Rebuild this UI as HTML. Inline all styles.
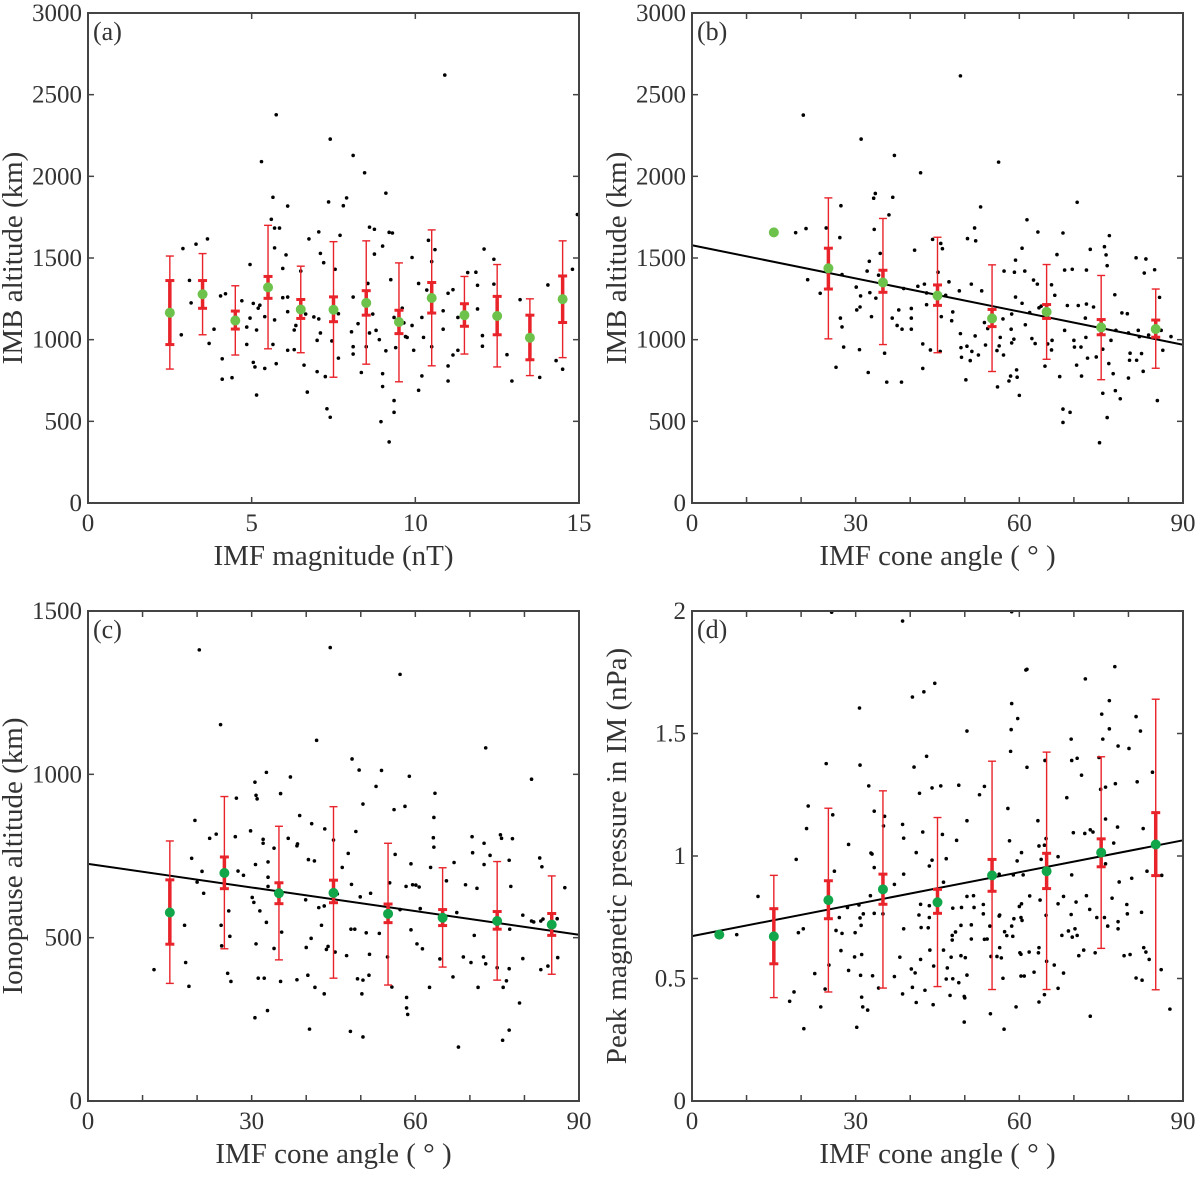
<!DOCTYPE html>
<html><head><meta charset="utf-8"><style>
body{margin:0;background:#fff;}
svg text{font-family:"Liberation Serif","Times New Roman","DejaVu Serif",serif;fill:#333;}
</style></head><body>
<svg id="fig" width="1200" height="1172" viewBox="0 0 1200 1172" xmlns="http://www.w3.org/2000/svg" font-family="Liberation Serif, Times New Roman, DejaVu Serif, serif"></svg>
<script>
// ---------- Panel (a) data ----------
const aDots=[[10.9,2620],[5.75,2377],[7.4,2228],[5.3,2090],[8.1,2128],[8.45,2022],[5.65,1872],[7.9,1868],[7.35,1843],[7.8,1820],[6.1,1818],[9.1,1897],[5.6,1737],[14.95,1766],[5.7,1683],[5.85,1683],[8.6,1689],[8.75,1676],[9.2,1657],[9.3,1653],[7.05,1660],[7.7,1639],[6.75,1617],[3.65,1617],[10.4,1608],[10.6,1551],[12.1,1555],[2.9,1558],[3.3,1585],[9.0,1573],[5.7,1562],[6.05,1519],[8.75,1524],[7.1,1528],[9.9,1503],[4.95,1460],[7.2,1471],[12.4,1492],[14.8,1431],[10.5,1478],[5.95,1436],[7.55,1431],[11.85,1413],[11.6,1411],[6.5,1420],[3.1,1363],[9.25,1367],[8.55,1344],[10.1,1344],[14.05,1335],[11.9,1333],[11.15,1306],[11.0,1284],[10.35,1304],[12.4,1340],[3.15,1225],[4.05,1268],[4.2,1281],[4.7,1238],[5.95,1257],[6.1,1261],[8.1,1261],[11.3,1136],[11.9,1188],[13.2,1245],[5.05,1222],[5.25,1211],[5.2,1193],[5.4,1141],[5.7,1121],[6.1,1171],[6.65,1157],[7.05,1127],[7.65,1159],[8.7,1157],[9.35,1136],[9.6,1193],[10.85,1177],[10.2,1136],[4.95,1132],[6.9,1139],[8.25,1098],[8.8,1057],[9.65,1103],[9.9,1087],[10.85,1064],[6.35,1087],[8.05,1048],[7.1,1041],[3.85,1064],[4.85,1077],[5.15,1059],[6.3,1059],[12.05,1025],[9.75,1014],[10.25,1014],[9.7,1019],[8.6,1041],[8.9,1000],[7.0,996],[7.45,992],[2.85,1030],[3.7,977],[4.85,971],[5.65,971],[8.1,957],[8.5,957],[9.95,935],[10.5,957],[11.3,935],[12.05,960],[12.8,908],[9.1,932],[9.4,951],[6.1,935],[6.3,939],[7.65,887],[8.1,912],[11.15,906],[14.3,872],[4.1,883],[5.05,861],[5.1,833],[5.4,824],[5.75,853],[6.6,844],[7.0,804],[8.35,799],[9.0,792],[11.0,839],[14.5,819],[4.1,758],[4.4,767],[7.25,774],[10.2,778],[13.8,769],[12.95,747],[11.0,747],[10.1,690],[6.7,679],[9.0,713],[5.15,661],[7.3,577],[7.4,525],[9.35,627],[9.35,555],[8.95,498],[9.2,374]];
const aBinX=[2.5,3.5,4.5,5.5,6.5,7.5,8.5,9.5,10.5,11.5,12.5,13.5,14.5];
const aMean=[1165,1278,1117,1320,1185,1183,1225,1108,1255,1150,1145,1012,1248];
const aInLo=[970,1192,1065,1253,1130,1110,1150,1037,1163,1082,1030,877,1105];
const aInHi=[1362,1362,1175,1387,1246,1262,1300,1180,1350,1220,1265,1150,1390];
const aOutLo=[820,1030,906,944,920,770,850,742,840,912,833,780,890];
const aOutHi=[1512,1527,1330,1700,1450,1600,1605,1470,1672,1387,1460,1250,1605];
const aXTicks=[0,5,10,15];
const aYTicks=[0,500,1000,1500,2000,2500,3000];

// ---------- Panel (b) data ----------
const bDots=[[49.2,2615],[20.4,2375],[31.0,2228],[37.1,2128],[41.9,2022],[56.2,2087],[70.6,1841],[52.9,1813],[36.8,1872],[33.6,1895],[33.3,1866],[27.3,1820],[36.1,1764],[61.4,1734],[51.8,1684],[19.0,1655],[20.9,1680],[24.6,1684],[33.4,1675],[52.0,1605],[50.5,1619],[44.1,1614],[63.4,1659],[68.0,1653],[27.1,1625],[76.5,1637],[75.6,1569],[45.6,1589],[45.9,1557],[40.8,1548],[60.5,1560],[73.0,1553],[66.9,1521],[75.9,1519],[34.5,1528],[81.4,1501],[83.2,1494],[59.3,1487],[76.1,1453],[82.9,1408],[84.8,1428],[69.7,1431],[68.3,1426],[72.3,1426],[57.2,1420],[61.0,1420],[59.1,1413],[45.1,1413],[32.1,1420],[32.5,1480],[34.2,1395],[21.2,1367],[27.5,1399],[47.1,1354],[42.6,1340],[62.6,1365],[63.3,1340],[51.2,1340],[65.9,1336],[63.6,1195],[68.8,1209],[70.8,1209],[72.3,1218],[77.5,1275],[85.7,1259],[23.5,1284],[30.1,1322],[30.9,1268],[32.6,1288],[33.7,1254],[38.8,1313],[41.4,1327],[43.0,1286],[46.5,1272],[49.0,1299],[53.1,1299],[59.3,1261],[60.5,1223],[66.5,1272],[30.2,1182],[30.8,1200],[37.9,1182],[40.2,1191],[43.0,1214],[47.8,1170],[58.6,1157],[61.9,1166],[64.0,1205],[78.8,1164],[79.8,1159],[27.2,1132],[32.9,1141],[36.7,1132],[40.2,1132],[45.7,1141],[47.6,1116],[53.6,1105],[57.0,1127],[61.1,1091],[72.1,1132],[73.6,1200],[27.5,1078],[37.6,1087],[38.5,1064],[40.2,1064],[49.2,1037],[51.9,1023],[54.2,1068],[58.5,1064],[68.3,1057],[77.7,1057],[80.0,1041],[81.8,1057],[83.7,1028],[86.0,1057],[87.8,1019],[56.5,1014],[62.3,1007],[70.0,996],[72.2,1014],[82.0,1019],[66.0,996],[76.8,996],[58.6,980],[59.0,1003],[62.9,976],[65.2,974],[65.9,937],[70.1,955],[71.3,955],[75.3,942],[27.8,955],[30.7,939],[42.3,974],[43.7,937],[45.5,928],[53.8,967],[55.9,933],[56.3,962],[49.3,951],[50.4,960],[51.3,928],[52.5,906],[86.3,935],[82.4,915],[80.3,917],[72.5,887],[74.1,894],[57.1,906],[35.3,917],[49.4,892],[51.0,872],[70.5,844],[64.7,838],[81.5,874],[80.2,874],[82.7,806],[76.4,854],[26.4,831],[42.3,824],[59.5,815],[32.3,799],[58.4,777],[67.4,774],[71.4,777],[59.6,770],[80.0,765],[77.2,792],[50.2,754],[58.1,747],[35.7,740],[38.4,740],[56.0,711],[77.6,688],[60.0,659],[75.3,672],[78.5,638],[85.3,627],[68.0,575],[69.3,555],[68.0,493],[76.1,523],[74.7,369]];
const bBinX=[25,35,45,55,65,75,85];
const bMean=[1437,1350,1270,1130,1170,1075,1065];
const bInLo=[1310,1290,1210,1080,1130,1030,1015];
const bInHi=[1560,1425,1335,1185,1215,1123,1120];
const bOutLo=[1005,970,920,805,880,755,825];
const bOutHi=[1868,1742,1627,1458,1460,1393,1310];
const bExtraX=[15];
const bExtraY=[1657];
const bFitX=[0,90];
const bFitY=[1578,969];
const bXTicks=[0,30,60,90];
const bXMinor=[10,20,40,50,70,80];
const bYTicks=[0,500,1000,1500,2000,2500,3000];

// ---------- Panel (c) data ----------
const cDots=[[20.4,1381],[44.4,1388],[57.2,1306],[24.3,1152],[41.9,1104],[72.9,1081],[48.4,1047],[32.7,1006],[49.7,1013],[53.8,1012],[81.3,985],[37.1,992],[58.9,994],[30.6,976],[52.8,963],[35.3,941],[63.6,942],[30.8,936],[31.0,925],[27.2,927],[50.4,909],[58.1,902],[56.1,892],[38.8,874],[63.4,868],[19.6,859],[41.0,849],[43.4,833],[49.1,825],[29.8,827],[23.5,817],[22.3,804],[27.0,809],[32.1,801],[36.7,804],[45.0,799],[63.3,806],[70.4,809],[75.6,815],[75.8,804],[77.8,803],[72.6,789],[32.1,789],[34.1,774],[63.4,777],[38.3,781],[38.4,787],[47.7,758],[70.5,760],[73.7,752],[56.3,755],[19.0,743],[40.4,739],[41.5,735],[77.2,737],[82.8,744],[67.1,730],[20.9,703],[27.5,704],[28.5,691],[30.7,724],[33.0,732],[33.0,685],[46.6,715],[59.2,726],[62.8,715],[83.2,717],[72.6,724],[65.7,674],[69.2,662],[60.1,661],[60.7,655],[59.5,662],[87.4,653],[77.5,657],[71.3,651],[55.3,668],[48.3,663],[49.9,625],[51.8,636],[33.0,657],[30.1,623],[39.9,616],[42.3,592],[43.3,597],[45.7,634],[20.0,670],[21.2,636],[30.4,608],[31.5,582],[25.8,582],[60.9,589],[57.2,586],[58.3,657],[67.6,577],[79.7,569],[81.3,551],[81.7,548],[83.0,551],[17.7,538],[24.4,538],[32.7,547],[35.5,517],[42.8,538],[48.2,526],[48.9,526],[51.0,515],[53.4,513],[59.2,524],[70.8,507],[77.3,526],[83.4,557],[86.0,558],[24.5,475],[26.0,504],[30.8,481],[34.1,467],[40.9,498],[43.7,464],[44.0,473],[45.3,456],[51.6,449],[40.0,470],[47.4,445],[50.4,370],[54.9,441],[60.3,481],[61.3,466],[64.5,435],[68.8,441],[70.2,424],[72.5,441],[72.9,420],[75.0,408],[79.7,436],[86.1,439],[84.3,413],[83.0,402],[77.2,405],[12.1,402],[17.9,424],[25.6,391],[26.2,366],[31.2,376],[32.3,376],[35.3,366],[38.3,371],[40.3,385],[49.4,374],[51.5,385],[55.7,349],[66.9,380],[62.6,348],[76.1,348],[76.7,368],[71.5,348],[18.5,351],[41.6,348],[43.3,328],[50.2,328],[58.4,317],[58.4,285],[58.6,265],[79.1,300],[30.6,255],[32.9,277],[40.6,220],[48.1,213],[50.4,196],[77.2,217],[76.0,186],[67.9,165]];
const cBinX=[15,25,35,45,55,65,75,85];
const cMean=[577,698,636,637,573,561,551,540];
const cInLo=[480,650,604,607,546,537,526,507];
const cInHi=[677,747,668,676,603,586,580,574];
const cOutLo=[360,466,432,376,355,410,370,388];
const cOutHi=[796,932,841,901,789,714,733,689];
const cFitX=[0,90];
const cFitY=[726,509];
const cXTicks=[0,30,60,90];
const cXMinor=[10,20,40,50,70,80];
const cYTicks=[0,500,1000,1500];

// ---------- Panel (d) data ----------
const dDots=[[25.6,1.995],[58.6,1.997],[38.6,1.959],[61.4,1.762],[61.2,1.759],[77.5,1.773],[72.1,1.723],[44.5,1.705],[42.5,1.670],[40.4,1.649],[76.5,1.634],[58.6,1.622],[30.7,1.604],[75.1,1.579],[59.7,1.561],[81.4,1.569],[50.4,1.510],[58.5,1.516],[82.2,1.510],[76.5,1.519],[75.3,1.477],[69.5,1.477],[78.1,1.449],[80.1,1.439],[58.4,1.427],[43.0,1.407],[70.6,1.399],[69.6,1.390],[64.7,1.390],[74.6,1.402],[24.6,1.377],[30.8,1.371],[40.7,1.363],[61.4,1.362],[84.4,1.342],[71.4,1.330],[81.6,1.303],[75.8,1.281],[77.6,1.295],[32.4,1.286],[48.9,1.289],[44.0,1.278],[45.6,1.286],[53.6,1.284],[52.7,1.250],[74.9,1.272],[41.7,1.256],[68.7,1.238],[57.9,1.194],[33.4,1.183],[25.8,1.168],[21.3,1.204],[35.3,1.162],[35.1,1.123],[63.4,1.144],[50.4,1.144],[75.8,1.151],[21.0,1.112],[82.7,1.112],[78.0,1.118],[38.6,1.129],[42.3,1.098],[45.9,1.088],[69.9,1.095],[72.0,1.092],[73.0,1.107],[73.5,1.098],[38.8,1.073],[48.5,1.064],[58.2,1.062],[64.9,1.071],[77.3,1.053],[28.7,1.047],[64.6,1.044],[41.1,1.014],[32.8,1.012],[33.0,1.008],[60.4,1.014],[67.1,0.997],[19.1,0.986],[46.6,0.989],[44.0,0.983],[59.6,0.980],[64.0,0.986],[33.4,0.953],[43.5,0.959],[63.6,1.041],[75.8,0.968],[38.8,0.926],[58.9,0.923],[60.7,0.923],[80.6,0.909],[86.1,0.921],[83.4,0.938],[26.1,0.938],[56.3,0.926],[69.6,0.923],[37.1,0.884],[46.1,0.893],[78.3,0.894],[50.4,0.835],[51.6,0.838],[53.4,0.802],[51.7,0.790],[49.4,0.790],[43.5,0.797],[41.9,0.803],[32.7,0.838],[30.6,0.800],[28.5,0.790],[60.4,0.805],[68.1,0.835],[70.4,0.812],[72.3,0.838],[72.9,0.782],[67.1,0.805],[63.8,0.820],[77.0,0.828],[79.7,0.802],[61.9,0.837],[60.0,0.794],[79.8,0.764],[82.4,0.770],[69.5,0.761],[64.9,0.758],[56.4,0.759],[56.3,0.755],[53.4,0.764],[51.2,0.719],[49.3,0.717],[47.8,0.787],[41.6,0.759],[33.4,0.766],[31.4,0.764],[27.0,0.749],[35.0,0.764],[75.6,0.749],[78.1,0.732],[76.2,0.714],[78.1,0.703],[74.2,0.749],[70.2,0.703],[69.0,0.694],[67.8,0.676],[60.3,0.749],[60.5,0.737],[58.6,0.714],[57.7,0.675],[58.8,0.672],[59.0,0.744],[57.3,0.691],[54.6,0.714],[42.0,0.708],[43.3,0.707],[43.5,0.749],[38.8,0.703],[31.0,0.717],[30.8,0.747],[27.5,0.684],[29.9,0.687],[26.4,0.696],[19.5,0.687],[20.4,0.703],[12.1,0.835],[8.2,0.679],[47.7,0.676],[48.3,0.690],[47.7,0.657],[51.2,0.661],[53.6,0.660],[56.4,0.626],[69.7,0.669],[70.6,0.676],[70.9,0.593],[71.8,0.616],[73.9,0.605],[82.8,0.626],[83.2,0.608],[80.3,0.598],[79.2,0.593],[63.6,0.626],[63.5,0.605],[61.8,0.608],[60.3,0.599],[60.1,0.605],[54.1,0.661],[55.9,0.590],[54.8,0.590],[56.7,0.584],[49.3,0.593],[50.1,0.585],[47.5,0.587],[46.1,0.616],[43.6,0.616],[41.9,0.578],[38.1,0.587],[29.8,0.588],[31.1,0.598],[27.3,0.614],[83.8,0.578],[86.0,0.536],[81.4,0.502],[82.5,0.493],[65.0,0.570],[66.4,0.555],[68.1,0.522],[62.7,0.526],[60.9,0.510],[60.3,0.510],[57.0,0.501],[50.4,0.514],[48.9,0.483],[46.6,0.498],[47.8,0.499],[44.3,0.551],[46.8,0.543],[40.9,0.523],[40.2,0.539],[37.1,0.508],[33.1,0.511],[30.9,0.513],[28.7,0.533],[25.1,0.555],[22.5,0.520],[24.4,0.457],[34.2,0.461],[49.9,0.427],[50.0,0.421],[47.3,0.431],[38.6,0.437],[42.7,0.452],[44.2,0.393],[54.7,0.356],[64.6,0.434],[63.6,0.404],[67.1,0.460],[59.4,0.384],[73.0,0.346],[87.6,0.375],[18.7,0.445],[17.9,0.407],[23.6,0.384],[31.1,0.424],[31.3,0.384],[32.2,0.371],[20.5,0.295],[30.2,0.301],[57.2,0.293],[49.9,0.322],[40.4,0.464],[41.1,0.402]];
const dBinX=[15,25,35,45,55,65,75,85];
const dMean=[0.672,0.82,0.864,0.811,0.921,0.938,1.014,1.047];
const dInLo=[0.56,0.744,0.803,0.766,0.856,0.867,0.956,0.92];
const dInHi=[0.785,0.899,0.926,0.864,0.986,1.011,1.07,1.177];
const dOutLo=[0.422,0.445,0.461,0.467,0.455,0.455,0.623,0.454];
const dOutHi=[0.921,1.195,1.266,1.157,1.387,1.424,1.405,1.64];
const dExtraX=[5];
const dExtraY=[0.679];
const dFitX=[0,90];
const dFitY=[0.673,1.064];
const dXTicks=[0,30,60,90];
const dXMinor=[10,20,40,50,70,80];
const dYTicks=[0,0.5,1,1.5,2];
const dYTickLabels=['0','0.5','1','1.5','2'];

const NS='http://www.w3.org/2000/svg';
const FONT='"Liberation Serif", "Times New Roman", "DejaVu Serif", serif';
const svg=document.getElementById('fig');
function mk(tag,attrs,parent){const e=document.createElementNS(NS,tag);for(const k in attrs)e.setAttribute(k,attrs[k]);(parent||svg).appendChild(e);return e;}
function txt(attrs,parent,s){const t=mk('text',attrs,parent);t.style.fontFamily=FONT;t.textContent=s;return t;}

function panel(o){
  const g=mk('g',{});
  
  
  const sx=v=>o.x0+(v-o.xmin)/(o.xmax-o.xmin)*(o.x1-o.x0);
  const sy=v=>o.y1-(v-o.ymin)/(o.ymax-o.ymin)*(o.y1-o.y0);
  const dg=mk('g',{},g);
  
  
  o.dots.forEach(p=>{const c=mk('circle',{cx:sx(p[0]),cy:sy(p[1]),r:1.8,fill:'#000'},dg);
    
    });
  if(o.fitX){const l=mk('line',{x1:sx(o.fitX[0]),y1:sy(o.fitY[0]),x2:sx(o.fitX[1]),y2:sy(o.fitY[1]),stroke:'#000','stroke-width':2},g);
    
    }
  o.binX.forEach((bx,i)=>{
    const eg=mk('g',{},g);
    
    
    const X=sx(bx);
    mk('line',{x1:X,x2:X,y1:sy(o.outLo[i]),y2:sy(o.outHi[i]),stroke:'#e8232a','stroke-width':1.4},eg);
    [o.outLo[i],o.outHi[i]].forEach(v=>mk('line',{x1:X-4,x2:X+4,y1:sy(v),y2:sy(v),stroke:'#e8232a','stroke-width':1.4},eg));
    mk('line',{x1:X,x2:X,y1:sy(o.inLo[i]),y2:sy(o.inHi[i]),stroke:'#e8232a','stroke-width':3.5},eg);
    [o.inLo[i],o.inHi[i]].forEach(v=>mk('line',{x1:X-4.5,x2:X+4.5,y1:sy(v),y2:sy(v),stroke:'#e8232a','stroke-width':3},eg));
    const m=mk('circle',{cx:X,cy:sy(o.mean[i]),r:5,fill:o.green},eg);
    
    
  });
  if(o.exX){o.exX.forEach((v,i)=>{const m=mk('circle',{cx:sx(v),cy:sy(o.exY[i]),r:5,fill:o.green},g);
    
    });}
  const ax=mk('rect',{x:o.x0,y:o.y0,width:o.x1-o.x0,height:o.y1-o.y0,fill:'none',stroke:'#444','stroke-width':2},g);
  
  
  const tk=[...o.xTicks,...(o.xMinor||[])];
  tk.forEach(v=>{const X=sx(v);mk('line',{x1:X,x2:X,y1:o.y1,y2:o.y1-6,stroke:'#444','stroke-width':1.5},g);mk('line',{x1:X,x2:X,y1:o.y0,y2:o.y0+6,stroke:'#444','stroke-width':1.5},g);});
  o.yTicks.forEach(v=>{const Y=sy(v);mk('line',{x1:o.x0,x2:o.x0+6,y1:Y,y2:Y,stroke:'#444','stroke-width':1.5},g);mk('line',{x1:o.x1,x2:o.x1-6,y1:Y,y2:Y,stroke:'#444','stroke-width':1.5},g);});
  o.xTicks.forEach(v=>{const t=txt({x:sx(v),y:o.y1+28,'text-anchor':'middle','font-size':25},g,String(v));
    
    });
  o.yTicks.forEach((v,i)=>{const t=txt({x:o.x0-6,y:sy(v)+8,'text-anchor':'end','font-size':25},g,o.yLabels?o.yLabels[i]:String(v));
    
    });
  const xt=txt({x:(o.x0+o.x1)/2,y:o.y1+62,'text-anchor':'middle','font-size':29,fill:'#444'},g,o.xTitle);
  
  
  const yc=(o.y0+o.y1)/2, yx=o.x0-66;
  const yt=txt({x:yx,y:yc,'text-anchor':'middle','font-size':29,fill:'#444',transform:`rotate(-90 ${yx} ${yc})`},g,o.yTitle);
  
  
  const pl=txt({x:o.x0+5,y:o.y0+27,'font-size':26,fill:'#111'},g,'('+o.id+')');
  
  
}
const T1=[13,503],T2=[611,1101],L=[88,579],R=[692,1183];
panel({id:'a',x0:L[0],x1:L[1],y0:T1[0],y1:T1[1],xmin:0,xmax:15,ymin:0,ymax:3000,dots:aDots,binX:aBinX,mean:aMean,inLo:aInLo,inHi:aInHi,outLo:aOutLo,outHi:aOutHi,green:'#6cc24a',xTicks:aXTicks,yTicks:aYTicks,xTitle:'IMF magnitude (nT)',yTitle:'IMB altitude (km)'});
panel({id:'b',x0:R[0],x1:R[1],y0:T1[0],y1:T1[1],xmin:0,xmax:90,ymin:0,ymax:3000,dots:bDots,binX:bBinX,mean:bMean,inLo:bInLo,inHi:bInHi,outLo:bOutLo,outHi:bOutHi,exX:bExtraX,exY:bExtraY,fitX:bFitX,fitY:bFitY,green:'#6cc24a',xTicks:bXTicks,xMinor:bXMinor,yTicks:bYTicks,xTitle:'IMF cone angle ( \u00b0 )',yTitle:'IMB altitude (km)'});
panel({id:'c',x0:L[0],x1:L[1],y0:T2[0],y1:T2[1],xmin:0,xmax:90,ymin:0,ymax:1500,dots:cDots,binX:cBinX,mean:cMean,inLo:cInLo,inHi:cInHi,outLo:cOutLo,outHi:cOutHi,fitX:cFitX,fitY:cFitY,green:'#12a64a',xTicks:cXTicks,xMinor:cXMinor,yTicks:cYTicks,xTitle:'IMF cone angle ( \u00b0 )',yTitle:'Ionopause altitude (km)'});
panel({id:'d',x0:R[0],x1:R[1],y0:T2[0],y1:T2[1],xmin:0,xmax:90,ymin:0,ymax:2,dots:dDots,binX:dBinX,mean:dMean,inLo:dInLo,inHi:dInHi,outLo:dOutLo,outHi:dOutHi,exX:dExtraX,exY:dExtraY,fitX:dFitX,fitY:dFitY,green:'#12a64a',xTicks:dXTicks,xMinor:dXMinor,yTicks:dYTicks,yLabels:dYTickLabels,xTitle:'IMF cone angle ( \u00b0 )',yTitle:'Peak magnetic pressure in IM (nPa)'});
</script>
</body></html>
